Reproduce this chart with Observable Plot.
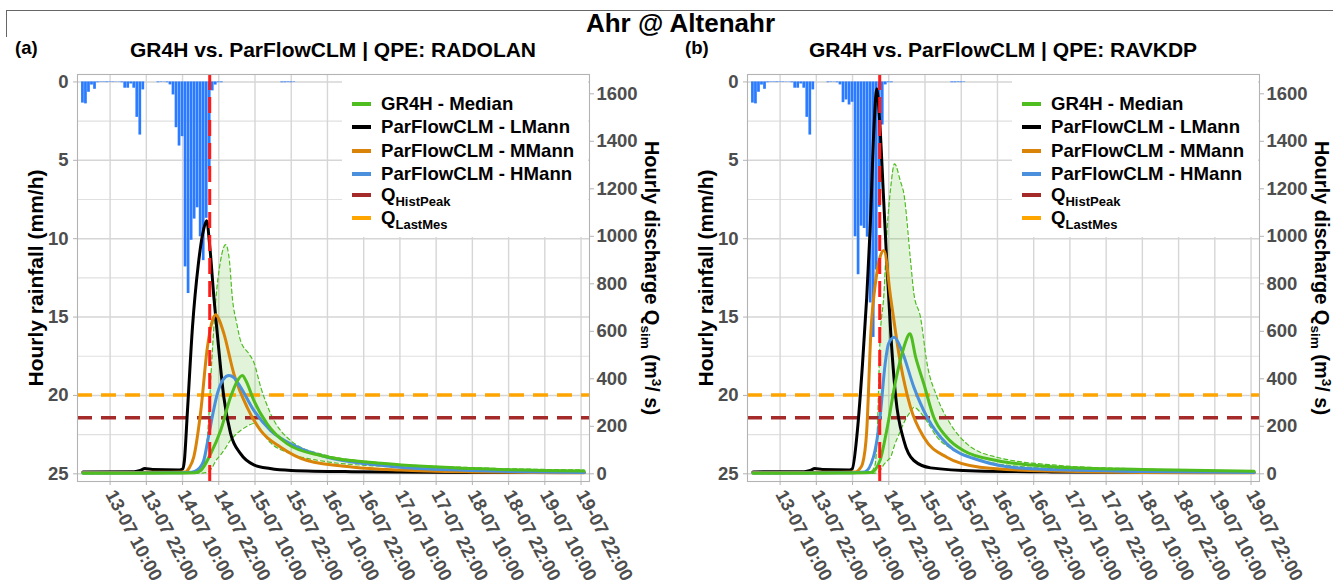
<!DOCTYPE html>
<html><head><meta charset="utf-8">
<script src="https://cdn.jsdelivr.net/npm/d3@7"></script>
<script src="https://cdn.jsdelivr.net/npm/@observablehq/plot@0.6"></script>
<style>
body{margin:0;background:#fff;}
#root{position:relative;width:1333px;height:583px;overflow:hidden;font-family:"Liberation Sans",Arial,sans-serif;font-weight:bold;color:#000;}
.abs{position:absolute;white-space:nowrap;}
.rot{position:absolute;width:400px;height:26px;line-height:26px;text-align:center;white-space:nowrap;}
.leg{position:absolute;background:#fff;}
.key{position:absolute;height:3.5px;width:19px;}
.lt{position:absolute;height:24px;line-height:24px;font-size:18.6px;white-space:nowrap;}
.lt sub{font-size:13px;vertical-align:-5px;line-height:0;}
</style></head><body><div id="root"></div>
<script>
// ---------------- data ----------------
const mainTitle = "Ahr @ Altenahr";
const panelTags = ["(a)", "(b)"];
const panelTitles = ["GR4H vs. ParFlowCLM | QPE: RADOLAN", "GR4H vs. ParFlowCLM | QPE: RAVKDP"];
const seriesNames = ["GR4H - Median", "ParFlowCLM - LMann", "ParFlowCLM - MMann", "ParFlowCLM - HMann"];
const seriesColors = ["#4fbc20", "#000000", "#d98309", "#4a90dd"];
const refNames = ["HistPeak", "LastMes"];
const refColors = ["#a52a2a", "#ffa500"];
const refValues = [236, 332];            // m3/s
const eventTime = "14-07 19:00";
const xTickLabels = ["13-07 10:00","13-07 22:00","14-07 10:00","14-07 22:00","15-07 10:00","15-07 22:00",
  "16-07 10:00","16-07 22:00","17-07 10:00","17-07 22:00","18-07 10:00","18-07 22:00","19-07 10:00","19-07 22:00"];
const rainTicks = [0, 5, 10, 15, 20, 25];
const rainMinor = [2.5, 7.5, 12.5, 17.5, 22.5];
const qTicks = [0, 200, 400, 600, 800, 1000, 1200, 1400, 1600];
const rainAxisTop = 1650;   // discharge matching 0 mm/h on the secondary axis
const rainAxisK = 66;       // m3/s per mm/h

// hourly rainfall (mm/h), first value = 13-07 01:00
const rainA = [1.35,1.4,0.66,0.2,0.47,0.05,0.03,0.03,0.04,0.03,0.03,0.02,0.02,0.05,0.4,0.4,0.13,0.4,2.26,3.39,
  0.51,0,0,0,0,0.05,0.03,0.02,0.05,0.19,0.83,2.92,4.09,3.49,11.8,13.5,10.1,8.75,8.03,9.88,
  11.4,8.7,5.6,0.57,0.2,0.05,0.05,0,0,0,0,0,0,0,0,0,0,0,0,0,0,0,0,0,0,0,0.05,0.05,0.04,0.05,0.03];
const rainB = [1.35,1.4,0.66,0.2,0.47,0.05,0.03,0.03,0.04,0.03,0.03,0.02,0.02,0.05,0.4,0.4,0.13,0.4,2.26,3.39,
  0.51,0,0,0,0,0.05,0.03,0.02,0.05,0.19,1.32,1.15,1.47,1.3,9.88,12.3,9.2,9.35,9.9,14.1,
  16.3,12,8,2.75,0.19,0.05,0.05,0,0,0,0,0,0,0,0,0,0,0,0,0,0,0,0,0,0,0,0.05,0.05,0.04,0.05,0.03];

// discharge series: [hours since 13-07 00:00, m3/s]
const medianA = [[1,2],[30,3],[38,4],[40,14],[43.3,84],[46.6,182],[49.9,323],[52,388],[53.8,414],[55,392],[57.6,309],[62,210],[68.7,126],[79.7,77],[101.8,42],[130,22],[167,12]];
const lmannA = [[1,8],[18,9],[20,14],[21.5,22],[24,18],[33,16],[34,20],[34.6,55],[35.6,260],[37.3,620],[39.2,880],[41,1030],[42,1066],[43,960],[44.4,740],[45.5,590],[47.7,320],[49.9,170],[53.2,85],[57.6,38],[63,22],[70,14],[90,9],[130,6],[167,5]];
const mmannA = [[1,5],[20,6],[35,8],[36.2,25],[37.7,70],[40,260],[42.2,530],[44,650],[45,670],[46,652],[47.7,590],[51,421],[55.4,280],[59.9,182],[66.5,112],[75.3,56],[90.7,28],[106,16],[130,8],[167,4]];
const hmannA = [[1,3],[30,4],[37,7],[38.9,16],[41,56],[42.5,150],[44,250],[45.5,336],[47.5,398],[49.4,414],[51,405],[53.2,365],[57.6,267],[63.2,182],[70.9,119],[81.9,70],[95,42],[106,28],[130,14],[167,6]];
// GR4H ensemble band: [hours, lower, upper]
const bandA = [[1,1,4],[38,2,6],[40.5,3,20],[42.5,8,200],[43.7,24,480],[45,55,729],[46.6,80,898],[48.3,110,965],[49.5,135,900],[50.5,150,740],[52,170,630],[53.2,182,561],[56,205,505],[57.6,212,470],[59.9,180,365],[63.2,130,252],[69.8,85,140],[79.7,55,84],[101.8,30,44],[130,16,26],[167,8,16]];

const medianB = [[1,2],[30,3],[40,5],[43.1,56],[45.3,182],[48.3,393],[51,533],[53,590],[54.9,491],[57.6,379],[60.9,238],[65.2,154],[70.7,98],[81.7,56],[102.7,28],[130,18],[167,11]];
const lmannB = [[1,8],[18,9],[20,14],[21.5,22],[24,18],[33,16],[33.9,21],[35.6,182],[37.3,463],[38.7,744],[39.8,1024],[41.1,1459],[42,1621],[43.1,1459],[44.2,1179],[45.3,900],[46.6,603],[48.3,323],[51,140],[54.3,56],[59.9,25],[75,12],[100,8],[167,5]];
const mmannB = [[1,5],[20,6],[35,8],[36.3,20],[37.3,42],[38.7,182],[40.1,603],[41.7,814],[43.1,912],[44.4,940],[46.6,744],[49.9,463],[53.2,280],[57.6,154],[65.2,70],[76.2,28],[92.8,14],[130,6],[167,4]];
const hmannB = [[1,3],[30,4],[38,8],[40.9,70],[43.1,238],[44.8,463],[45.9,547],[47.8,575],[50.3,519],[54.3,365],[58.7,238],[65.2,126],[76.2,56],[92.8,21],[130,10],[167,6]];
const bandB = [[1,1,4],[40,2,8],[41.5,3,40],[42.2,5,182],[43.1,14,561],[44.4,40,758],[45.5,55,1038],[46.6,70,1200],[47.9,120,1305],[49.9,182,1230],[51,215,1179],[53.2,262,898],[54.3,280,760],[56.5,258,659],[58.7,220,463],[62,154,323],[66.4,108,210],[71.9,78,126],[81.7,42,70],[102.7,21,35],[130,12,20],[167,7,12]];

// ---------------- helpers ----------------
const T0 = Date.UTC(2021, 6, 13, 0);
const hourToDate = h => new Date(T0 + h * 3600e3);
function labelToDate(s) {
  const [d, t] = s.split(" ");
  const [dd, mm] = d.split("-").map(Number);
  const [hh, mi] = t.split(":").map(Number);
  return new Date(Date.UTC(2021, mm - 1, dd, hh, mi));
}
const rainToQ = r => rainAxisTop - rainAxisK * r;
const tickDates = xTickLabels.map(labelToDate);
const tickText = new Map(tickDates.map((d, i) => [+d, xTickLabels[i]]));
const pts = arr => arr.map(([h, q]) => ({t: hourToDate(h), q}));

const root = document.getElementById("root");
function add(html, cls, style) {
  const el = document.createElement("div");
  el.className = cls; el.innerHTML = html;
  Object.assign(el.style, style);
  root.appendChild(el);
  return el;
}

// title strip
add("", "abs", {left: "6px", top: "10px", width: "1327px", height: "26px", borderTop: "1px solid #666", borderLeft: "1px solid #666"});
add(mainTitle, "abs", {left: "14px", top: "9px", width: "1333px", textAlign: "center", fontSize: "26px", lineHeight: "28px"});

const panels = [
  {rain: rainA, median: medianA, lmann: lmannA, mmann: mmannA, hmann: hmannA, band: bandA},
  {rain: rainB, median: medianB, lmann: lmannB, mmann: mmannB, hmann: hmannB, band: bandB}
];

panels.forEach((p, i) => {
  const ox = i * 670;
  const rainData = p.rain.map((r, k) => ({h: k + 1, r})).filter(d => d.r > 0)
    .map(d => ({x1: hourToDate(d.h - 0.5), x2: hourToDate(d.h + 0.5), r: d.r}));
  const band = p.band.map(([h, lo, hi]) => ({t: hourToDate(h), lo, hi}));
  const lines = [p.lmann, p.mmann, p.hmann, p.median];
  const lineColors = [seriesColors[1], seriesColors[2], seriesColors[3], seriesColors[0]];

  const chart = Plot.plot({
    width: 666, height: 523,
    marginTop: 14, marginBottom: 102, marginLeft: 77, marginRight: 77,
    style: {fontFamily: '"Liberation Sans", Arial, sans-serif', fontSize: "18.5px", fontWeight: "bold", background: "transparent", overflow: "visible"},
    x: {type: "utc", domain: [hourToDate(-0.8), hourToDate(168.8)]},
    y: {domain: [-32.4, 1681.3]},
    marks: [
      Plot.ruleY(rainMinor.map(rainToQ), {stroke: "#e0e0e0", strokeWidth: 1.1}),
      Plot.ruleY(rainTicks.map(rainToQ), {stroke: "#d6d6d6", strokeWidth: 1.4}),
      Plot.ruleX(tickDates, {stroke: "#d6d6d6", strokeWidth: 1.4}),
      Plot.rect(rainData, {x1: "x1", x2: "x2", y1: rainAxisTop, y2: d => rainToQ(d.r), fill: "#2a7bff", insetLeft: 0.15, insetRight: 0.15}),
      Plot.areaY(band, {x: "t", y1: "lo", y2: "hi", fill: seriesColors[0], fillOpacity: 0.17, curve: "monotone-x"}),
      Plot.lineY(band, {x: "t", y: "hi", stroke: seriesColors[0], strokeWidth: 1.2, strokeDasharray: "4,3", curve: "monotone-x"}),
      Plot.lineY(band, {x: "t", y: "lo", stroke: seriesColors[0], strokeWidth: 1.2, strokeDasharray: "4,3", curve: "monotone-x"}),
      ...refValues.map((v, k) => Plot.ruleY([v], {stroke: refColors[k], strokeWidth: 3.5, strokeDasharray: "15,9"})),
      ...lines.map((l, k) => Plot.lineY(pts(l), {x: "t", y: "q", stroke: lineColors[k], strokeWidth: 3, curve: "monotone-x"})),
      Plot.ruleX([labelToDate(eventTime)], {stroke: "#ff1a1a", strokeWidth: 3, strokeDasharray: "16,7"}),
      Plot.frame({stroke: "#b3b3b3", strokeWidth: 1.1}),
      Plot.axisY({anchor: "left", ticks: rainTicks.map(rainToQ), tickFormat: q => String(Math.round((rainAxisTop - q) / rainAxisK)),
        label: null, tickSize: 4, tickPadding: 5, stroke: "#b3b3b3", fill: "#4d4d4d"}),
      Plot.axisY({anchor: "right", ticks: qTicks, tickFormat: d => String(d), label: null, tickSize: 4, tickPadding: 3, stroke: "#b3b3b3", fill: "#4d4d4d"}),
      Plot.axisX({ticks: tickDates, tickFormat: d => tickText.get(+d), label: null, tickSize: 4, tickRotate: 62,
        textAnchor: "start", lineAnchor: "middle", tickPadding: 6, stroke: "#b3b3b3", fill: "#4d4d4d"})
    ]
  });
  chart.style.position = "absolute";
  chart.style.left = ox + "px";
  chart.style.top = "60px";
  root.appendChild(chart);

  // tag + subtitle
  add(panelTags[i], "abs", {left: (ox + 15) + "px", top: "36px", fontSize: "18.5px", lineHeight: "24px"});
  add(panelTitles[i], "abs", {left: (ox + 33) + "px", width: "600px", top: "37px", textAlign: "center", fontSize: "21px", lineHeight: "26px"});
  // axis titles
  add("Hourly rainfall (mm/h)", "rot", {left: (ox + 36 - 200) + "px", top: (278 - 13) + "px", fontSize: "21px", transform: "rotate(-90deg)"});
  add('Hourly discharge Q<sub style="font-size:13.5px;vertical-align:-4px">sim</sub> (m<sup style="font-size:13.5px;vertical-align:7px">3</sup>/ s)', "rot",
      {left: (ox + 656 - 200) + "px", top: (278 - 13) + "px", fontSize: "20px", transform: "rotate(90deg)"});
  // legend
  const lg = add("", "leg", {left: (ox + 342) + "px", top: "75px", width: "246px", height: "162px"});
  const rowsY = [29, 52, 76, 99, 120, 143];
  const labels = [...seriesNames, ...refNames.map(n => "Q<sub>" + n + "</sub>")];
  const colors = [...seriesColors, ...refColors];
  labels.forEach((lab, k) => {
    const key = document.createElement("div");
    key.className = "key";
    Object.assign(key.style, {left: "10px", top: (rowsY[k] - 1.75) + "px", background: colors[k]});
    lg.appendChild(key);
    const t = document.createElement("div");
    t.className = "lt"; t.innerHTML = lab;
    Object.assign(t.style, {left: "39px", top: (rowsY[k] - 12) + "px"});
    lg.appendChild(t);
  });
});
</script></body></html>
